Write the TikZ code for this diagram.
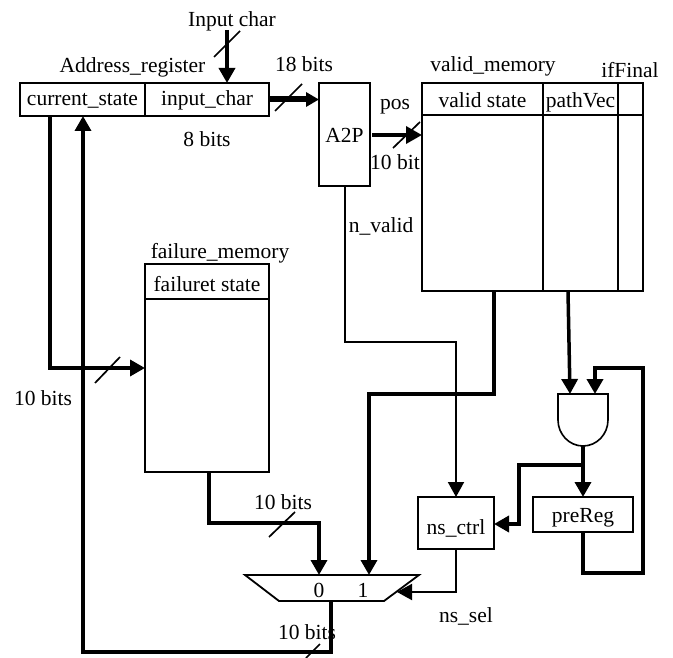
\documentclass[tikz,border=0pt]{standalone}
\usepackage{fontspec}
\setmainfont{Liberation Serif}
\usetikzlibrary{arrows.meta,shapes.geometric}
\tikzset{
  box/.style={draw=black,line width=1.6pt,inner sep=0pt,outer sep=0pt,fill=none},
  wd/.style={minimum width=#1pt},
  ht/.style={minimum height=#1pt},
  bl/.style={text height=#1pt,text depth=0pt},
  lab/.style={inner sep=0pt,outer sep=0pt,anchor=base},
  tip/.style={-{Triangle[length=15pt,width=16pt]}},
  thinwire/.style={line width=2pt,tip,line join=miter},
  wire/.style={line width=3.5pt,tip,line join=miter},
  fatwire/.style={line width=4pt,line join=miter},
  slash/.style={line width=1.7pt}
}
\begin{document}
\begin{tikzpicture}[x=1pt,y=-1pt,font=\fontsize{21.5}{24}\selectfont]
\useasboundingbox (0,0) rectangle (673,658);
% register
\node[box,wd=125,ht=33,bl=13] (cs) at (82.5,99.5) {current\_state};
\node[box,wd=124,ht=33,bl=13] (ic) at (207,99.5) {input\_char};
% A2P
\node[box,wd=51,ht=103,bl=17] (a2p) at (344.5,134.5) {A2P};
% valid memory
\node[box,wd=121,ht=32,bl=18] (vsh) at (482.5,99) {valid state};
\node[box,wd=75,ht=32,bl=18] (pvh) at (580.5,99) {pathVec};
\node[box,wd=25,ht=32] (ifh) at (630.5,99) {};
\node[box,wd=121,ht=176] (vsb) at (482.5,203) {};
\node[box,wd=75,ht=176] (pvb) at (580.5,203) {};
\node[box,wd=25,ht=176] (ifb) at (630.5,203) {};
% failure memory
\node[box,wd=124,ht=35,bl=19] (fsh) at (207,281.5) {failuret state};
\node[box,wd=124,ht=173] (fsb) at (207,385.5) {};
% ctrl
\node[box,wd=76,ht=52,bl=22] (ns) at (456,523) {ns\_ctrl};
\node[box,wd=100,ht=35,bl=15] (pre) at (583,514.5) {preReg};
% mux
\node[inner sep=0pt,outer sep=0pt,minimum width=174pt,minimum height=26pt] (mux) at (332,588) {};
\draw[line width=1.8pt,line join=miter] (mux.north west) -- (mux.north east) -- (384,601) -- (279,601) -- cycle;
% and gate
\node[inner sep=0pt,outer sep=0pt,minimum width=50pt,minimum height=52pt] (andg) at (583,420) {};
\draw[line width=1.6pt,line join=miter] (andg.east) -- (andg.north east) -- (andg.north west) -- (andg.west)
  .. controls ([yshift=-14pt]andg.west) and ([xshift=-14pt]andg.south) .. (andg.south)
  .. controls ([xshift=14pt]andg.south) and ([yshift=-14pt]andg.east) .. (andg.east);
% labels
\node[lab] (l1) at (232,27) {Input char};
\node[lab] (l2) at (132.5,73) {Address\_register};
\node[lab] (l3) at (304,72) {18 bits};
\node[lab] (l4) at (207,147) {8 bits};
\node[lab] (l5) at (395,110) {pos};
\node[lab] (l6) at (395,170) {10 bit};
\node[lab] (l7) at (381,233) {n\_valid};
\node[lab] (l8) at (493,72) {valid\_memory};
\node[lab] (l9) at (630,78) {ifFinal};
\node[lab] (l10) at (220,259) {failure\_memory};
\node[lab] (l11) at (43,405) {10 bits};
\node[lab] (l12) at (283,509) {10 bits};
\node[lab] (l13) at (319,597) {0};
\node[lab] (l14) at (363,597) {1};
\node[lab] (l15) at (307,639) {10 bits};
\node[lab] (l16) at (466,622) {ns\_sel};
% free ends
\coordinate (inp) at (227,30);
% connectors
\draw[wire] (inp) -- ([xshift=20pt]ic.north);
\draw[fatwire,line width=6pt,-{Triangle[length=13pt,width=14pt]}] (ic.east) -- (a2p.west |- ic.east);
\draw[wire] ([xshift=-32.5pt]cs.south) |- (fsb.west |- 0,368);
\draw[wire] (mux.south -| 331,0) |- (83,652) -- ([xshift=0.5pt]cs.south);
\draw[wire] (fsb.south) ++(2,0) |- (319,523) -- ([xshift=-13pt]mux.north);
\draw[thinwire] (a2p.south) |- (456,342) -- (ns.north);
\draw[wire] (494,291) |- (369,394) -- ([xshift=37pt]mux.north);
\draw[wire,-{Triangle[length=16pt,width=17pt]}] (372,135) -- (vsb.west |- 0,135);
\draw[wire] (568,291) -- (andg.north west -| 570,0);
\draw[fatwire,tip] (pre.south) |- (643,573) |- (595,368) -- (andg.north -| 595,0);
\draw[wire] (andg.south) -- (pre.north);
\draw[wire] (583,465) -| (519,524) -- (ns.east |- 0,524);
\draw[thinwire] (ns.south) |- ([xshift=-22pt,yshift=-4pt]mux.east);
% bus slashes
\draw[slash] (214,57) -- (240,31);
\draw[slash] (275,111) -- (302,84);
\draw[slash] (393,148) -- (420,122);
\draw[slash] (95,383) -- (120,357);
\draw[slash] (269,537) -- (295,512);
\draw[slash] (306,658) -- (320,644);
\end{tikzpicture}
\end{document}
